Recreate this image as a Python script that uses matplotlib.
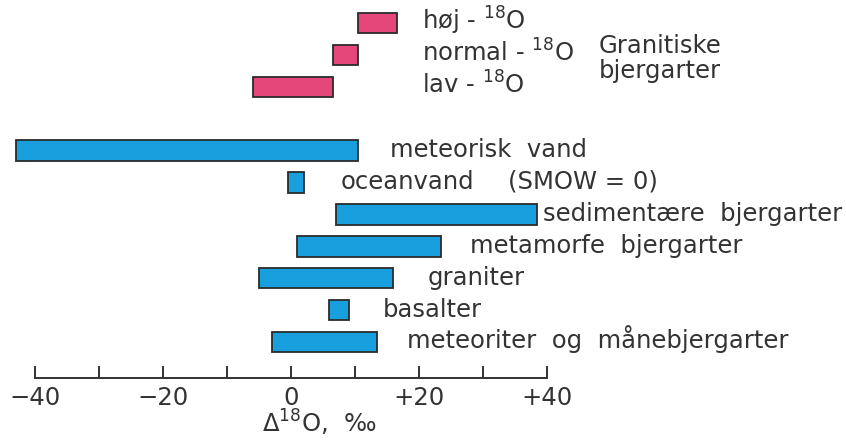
import matplotlib
matplotlib.use("Agg")
from matplotlib import pyplot as plt

# granitic rocks (pink)
granit_labels = ["høj - $^{18}$O", "normal - $^{18}$O", "lav - $^{18}$O"]
granit_lo = [10.5, 6.5, -6]
granit_hi = [16.5, 10.5, 6.5]

# other reservoirs (blue)
other_labels = ["meteorisk  vand", "oceanvand", "sedimentære  bjergarter",
                "metamorfe  bjergarter", "graniter", "basalter",
                "meteoriter  og  månebjergarter"]
other_lo = [-43, -0.5, 7, 1, -5, 6, -3]
other_hi = [10.5, 2, 38.5, 23.5, 16, 9, 13.5]

tick_vals = [-40, -20, 0, 20, 40]
tick_text = ["\u221240", "\u221220", "0", "+20", "+40"]

# where the labels start (x in axis units)
granit_text_x = [20.5, 20.5, 20.5]
other_text_x = [15.5, 7.7, 39.4, 28.0, 21.4, 14.4, 18.1]

pink = "#e6477b"
blue = "#18a0de"
ink = "#333333"

plt.rcParams["font.family"] = ["DejaVu Sans"]
fs = 17.5

fig = plt.figure(figsize=(8.46, 4.4), dpi=100)
ax = fig.add_axes([0, 0, 1, 1])
ax.set_xlim(-45.47, 86.72)
ax.set_ylim(13.07, -0.72)

rows_g = [0, 1, 2]
rows_o = [4, 5, 6, 7, 8, 9, 10]

ax.barh(rows_g, [h - l for l, h in zip(granit_lo, granit_hi)], left=granit_lo,
        height=0.64, color=pink, edgecolor="#2b2b2b", linewidth=1.3)
ax.barh(rows_o, [h - l for l, h in zip(other_lo, other_hi)], left=other_lo,
        height=0.64, color=blue, edgecolor="#2b2b2b", linewidth=1.3)

for r, lab, x in zip(rows_g, granit_labels, granit_text_x):
    ax.text(x, r + 0.2, lab, fontsize=fs, color=ink, va="baseline")
for r, lab, x in zip(rows_o, other_labels, other_text_x):
    ax.text(x, r + 0.2, lab, fontsize=fs, color=ink, va="baseline")

ax.text(33.9, 5.2, "(SMOW = 0)", fontsize=fs, color=ink, va="baseline")
ax.text(48.1, 1.1, "Granitiske\nbjergarter", fontsize=fs, color=ink,
        va="center", linespacing=1.05)

# axis
for s in ["top", "left", "right"]:
    ax.spines[s].set_visible(False)
ax.spines["bottom"].set_position(("data", 11.13))
ax.spines["bottom"].set_bounds(-40, 40)
ax.spines["bottom"].set_linewidth(1.4)
ax.spines["bottom"].set_color(ink)
ax.set_yticks([])
ax.set_xticks(tick_vals)
ax.set_xticklabels(tick_text)
ax.set_xticks([-30, -10, 10, 30], minor=True)
ax.tick_params(axis="x", which="both", direction="in", length=9, width=1.4,
               color=ink, labelsize=fs, labelcolor=ink, pad=6)

ax.text(4.4, 12.85, "\u0394$^{18}$O,  \u2030", fontsize=fs, color=ink,
        ha="center", va="baseline")

fig.savefig("out.png", dpi=100)
